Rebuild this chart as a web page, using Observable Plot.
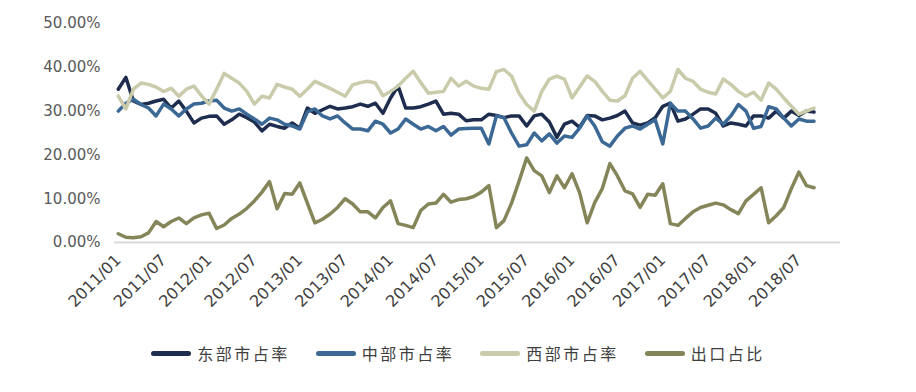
<!DOCTYPE html>
<html><head><meta charset="utf-8">
<script src="https://cdn.jsdelivr.net/npm/d3@7"></script>
<script src="https://cdn.jsdelivr.net/npm/@observablehq/plot@0.6"></script>
<style>
body{margin:0;background:#fff;}
#chart{width:916px;height:392px;position:relative;overflow:hidden;}
.legend{position:absolute;top:341px;left:0;width:916px;display:flex;justify-content:center;gap:26px;font-family:"Noto Sans CJK SC",sans-serif;font-size:16px;color:#404040;letter-spacing:2.5px;}
.item{display:flex;align-items:center;}
.sw{width:40px;height:5px;border-radius:2.5px;margin-right:6px;}
</style></head><body><div id="chart"></div>
<script>
const seriesNames = ["东部市占率","中部市占率","西部市占率","出口占比"];
const colors = ["#1e2d4d","#3b6894","#c9cbab","#85855a"];
const tickLabels = ["2011/01","2011/07","2012/01","2012/07","2013/01","2013/07","2014/01","2014/07","2015/01","2015/07","2016/01","2016/07","2017/01","2017/07","2018/01","2018/07"];
const east = [35.0,37.7,32.3,31.5,31.8,32.3,32.7,30.7,32.3,30.0,27.3,28.4,28.8,28.9,27.0,28.0,29.3,28.5,27.5,25.5,27.0,26.5,26.1,27.3,26.1,30.7,29.5,30.3,31.1,30.5,30.7,31.0,31.6,31.1,31.8,29.5,33.0,35.7,30.7,30.7,31.0,31.6,32.3,29.3,29.5,29.3,27.8,28.0,28.0,29.3,29.0,28.5,28.9,28.9,26.6,28.9,29.3,27.5,24.0,27.0,27.7,26.3,29.0,28.9,28.0,28.4,29.0,30.0,27.3,26.8,27.3,28.5,31.1,31.8,27.7,28.2,29.3,30.5,30.5,29.5,26.6,27.3,27.0,26.6,28.9,28.9,28.4,30.0,28.4,30.0,29.0,30.0,29.8];
const central = [30.0,31.8,32.7,31.5,30.7,28.9,31.6,30.5,28.9,30.5,31.6,31.8,32.3,32.5,30.7,30.0,30.5,29.3,28.2,27.0,28.4,28.0,27.0,26.6,25.9,29.8,30.5,28.9,28.2,28.9,27.3,25.9,25.9,25.5,27.7,27.0,25.0,25.9,28.2,27.0,25.9,26.5,25.5,26.5,24.5,25.9,26.0,26.1,26.1,22.5,28.9,28.5,25.0,22.0,22.3,25.0,23.2,24.8,22.7,24.3,24.0,26.1,28.9,26.6,23.0,22.0,24.3,26.1,26.6,25.9,27.0,28.0,22.5,31.8,30.0,30.0,28.2,26.1,26.6,28.4,27.0,28.9,31.5,30.0,26.1,26.5,31.0,30.5,28.4,26.6,28.2,27.7,27.7];
const west = [33.4,30.5,35.0,36.4,36.1,35.5,34.5,35.2,33.4,35.0,35.7,33.5,31.6,35.0,38.6,37.5,36.4,34.5,31.6,33.4,33.0,36.1,35.5,35.0,33.4,35.0,36.8,36.0,35.2,34.3,33.4,36.0,36.5,36.8,36.4,33.5,34.5,35.7,37.5,39.1,36.5,34.1,34.3,34.5,37.5,35.7,36.8,35.7,35.2,35.0,39.0,39.5,38.0,34.0,31.5,30.0,34.5,37.3,38.0,37.3,33.0,35.5,38.0,36.8,34.5,32.5,32.3,33.5,37.5,39.1,37.0,35.0,33.0,34.5,39.5,37.5,36.8,35.0,34.3,33.9,37.3,36.1,34.5,33.4,34.3,32.5,36.4,35.0,33.0,31.1,29.3,30.0,30.7];
const exportShare = [2.0,1.2,1.1,1.3,2.2,4.8,3.6,4.8,5.6,4.3,5.6,6.3,6.7,3.2,4.0,5.5,6.5,7.8,9.5,11.5,13.9,7.7,11.2,11.0,13.6,9.0,4.5,5.3,6.5,8.0,10.0,8.8,7.0,7.0,5.6,8.0,9.5,4.3,3.9,3.4,7.3,8.8,9.0,11.0,9.2,9.8,10.0,10.5,11.5,13.0,3.4,5.0,9.0,14.0,19.3,16.4,15.2,11.4,15.2,12.5,15.7,11.4,4.5,9.1,12.3,18.0,15.2,11.8,11.1,8.0,11.0,10.8,13.4,4.3,3.9,5.5,7.0,8.0,8.5,9.0,8.6,7.5,6.6,9.5,11.0,12.5,4.5,6.1,8.0,12.3,16.1,13.0,12.5];
const yTicks = [0,10,20,30,40,50];

const data = [];
[east, central, west, exportShare].forEach((arr, s) =>
  arr.forEach((v, i) => data.push({series: seriesNames[s], i, v})));
const tickIdx = tickLabels.map((_, k) => k * 6);

const plot = Plot.plot({
  width: 916, height: 330,
  marginLeft: 114, marginRight: 76, marginTop: 23, marginBottom: 88,
  style: {fontFamily: "'DejaVu Sans', sans-serif", background: "#fff"},
  x: {domain: [-0.5, 95.5], axis: null},
  y: {domain: [0, 50], axis: null},
  color: {domain: seriesNames, range: colors},
  marks: [
    Plot.ruleY([0], {stroke: "#d9d9d9", strokeWidth: 2}),
    Plot.axisY({ticks: yTicks, tickFormat: d => d.toFixed(2) + "%", tickSize: 0, tickPadding: 14, fontSize: 15, fill: "#595959", label: null}),
    Plot.axisX({ticks: tickIdx, tickFormat: d => tickLabels[d / 6], tickRotate: -45, tickSize: 0, tickPadding: 15, fontSize: 16, fill: "#404040", label: null, style: {letterSpacing: "1px"}}),
    Plot.line(data, {x: "i", y: "v", z: "series", stroke: "series", strokeWidth: 3.5, strokeLinejoin: "round"})
  ]
});
const chart = document.getElementById("chart");
chart.appendChild(plot);
const legend = document.createElement("div");
legend.className = "legend";
seriesNames.forEach((n, k) => {
  const it = document.createElement("div"); it.className = "item";
  const sw = document.createElement("span"); sw.className = "sw"; sw.style.background = colors[k];
  const tx = document.createElement("span"); tx.textContent = n;
  it.appendChild(sw); it.appendChild(tx); legend.appendChild(it);
});
chart.appendChild(legend);
</script></body></html>
